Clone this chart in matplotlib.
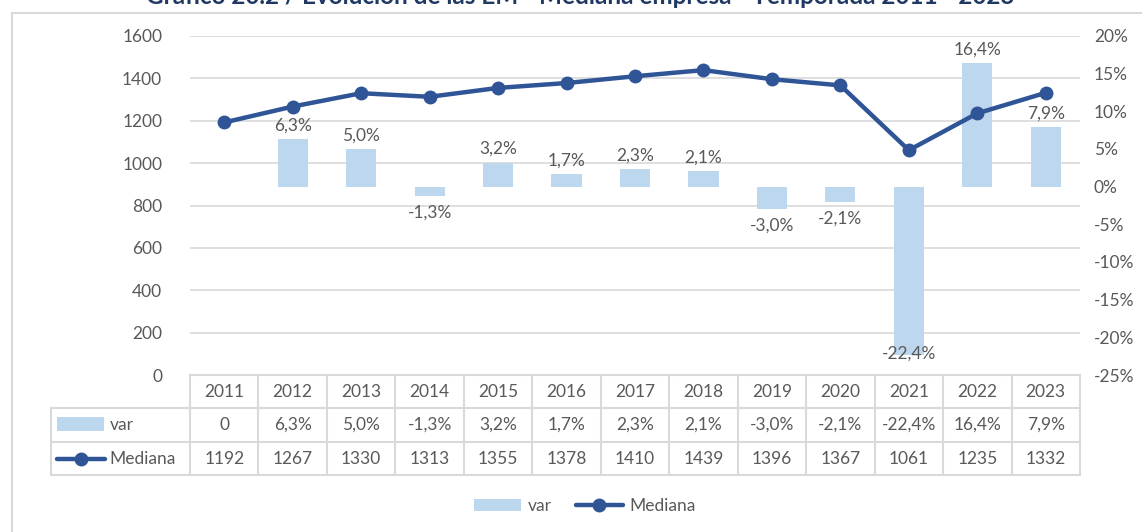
import matplotlib
matplotlib.use("Agg")
import matplotlib.pyplot as plt
from matplotlib.lines import Line2D
from matplotlib.patches import Rectangle
from matplotlib.ticker import FuncFormatter, MultipleLocator

years = ["2011", "2012", "2013", "2014", "2015", "2016", "2017", "2018",
         "2019", "2020", "2021", "2022", "2023"]
var_pct = [0, 6.3, 5.0, -1.3, 3.2, 1.7, 2.3, 2.1, -3.0, -2.1, -22.4, 16.4, 7.9]
mediana = [1192, 1267, 1330, 1313, 1355, 1378, 1410, 1439, 1396, 1367, 1061, 1235, 1332]
title = "Gráfico 20.2 / Evolución de las EM - Mediana empresa - Temporada 2011 - 2023"

BAR = "#BDD7EE"
LINE = "#2F5597"
TXT = "#595959"
GRID = "#D9D9D9"
FONT = "Lato"
FS = 12.5

plt.rcParams["font.family"] = [FONT, "DejaVu Sans"]

W, H = 1142, 532
fig = plt.figure(figsize=(W / 100, H / 100), dpi=100)
L, R, T, B = 190, 1080, 36, 375
ax = fig.add_axes([L / W, 1 - B / H, (R - L) / W, (B - T) / H])
ax2 = ax.twinx()
ax3 = ax.twinx()

x = list(range(len(years)))

def fmt_pct(v):
    return ("%.1f%%" % v).replace(".", ",")

# left axis: grid
ax.set_xlim(-0.5, len(years) - 0.5)
ax.set_ylim(0, 1600)
ax.yaxis.set_major_locator(MultipleLocator(200))
ax.grid(axis="y", color=GRID, linewidth=1.2)
ax.set_axisbelow(True)
ax.tick_params(axis="y", length=0, labelsize=FS, labelcolor=TXT, pad=20)
ax.tick_params(axis="x", length=0, labelbottom=False)
for a in (ax, ax2, ax3):
    for s in a.spines.values():
        s.set_visible(False)

# bars (right axis)
ax2.set_ylim(-25, 20)
ax2.yaxis.set_major_locator(MultipleLocator(5))
ax2.yaxis.set_major_formatter(FuncFormatter(lambda v, p: "%d%%" % round(v)))
ax2.tick_params(axis="y", length=0, labelsize=FS, labelcolor=TXT, pad=10)
bars = ax2.bar(x, var_pct, width=0.44, color=BAR, label="var")
for xi, v in zip(x, var_pct):
    if v == 0:
        continue
    if v > 0:
        ax2.annotate(fmt_pct(v), (xi, v), xytext=(0, 4), textcoords="offset points",
                     ha="center", va="bottom", fontsize=FS, color=TXT)
    elif v < -20:
        ax2.annotate(fmt_pct(v), (xi, v), xytext=(0, 1), textcoords="offset points",
                     ha="center", va="center", fontsize=FS, color=TXT)
    else:
        ax2.annotate(fmt_pct(v), (xi, v), xytext=(0, -6), textcoords="offset points",
                     ha="center", va="top", fontsize=FS, color=TXT)

# line (left scale, on top)
ax3.set_ylim(0, 1600)
ax3.set_yticks([])
line, = ax3.plot(x, mediana, color=LINE, linewidth=3.2, marker="o", markersize=9,
                 label="Mediana", solid_capstyle="round")

# data table
def ya(py):
    return (B - py) / (B - T)

tr = ax.get_xaxis_transform()
trf = fig.transFigure
rows_y = [375, 408, 442, 475]
lkw = dict(color=GRID, linewidth=1.5, clip_on=False)
for py in rows_y:
    if py == 375:
        ax.add_line(Line2D([-0.5, len(years) - 0.5], [ya(py)] * 2, transform=tr, **lkw))
    else:
        fig.add_artist(Line2D([51 / W, R / W], [1 - py / H] * 2, transform=trf, **lkw))
for i in range(len(years) + 1):
    ax.add_line(Line2D([i - 0.5] * 2, [ya(375), ya(475)], transform=tr, **lkw))
fig.add_artist(Line2D([51 / W] * 2, [1 - 408 / H, 1 - 475 / H], transform=trf, **lkw))

for xi, yr, v, m in zip(x, years, var_pct, mediana):
    ax.text(xi, ya(392), yr, transform=tr, ha="center", va="center", fontsize=FS, color=TXT)
    ax.text(xi, ya(425), "0" if v == 0 else fmt_pct(v), transform=tr, ha="center",
            va="center", fontsize=FS, color=TXT)
    ax.text(xi, ya(459), str(m), transform=tr, ha="center", va="center", fontsize=FS, color=TXT)

# row legend keys
fig.add_artist(Rectangle((57 / W, 1 - 431 / H), 47 / W, 14 / H, transform=trf,
                         facecolor=BAR, edgecolor="none"))
fig.text(110 / W, 1 - 425 / H, "var", ha="left", va="center", fontsize=FS, color=TXT)
fig.add_artist(Line2D([57 / W, 105 / W], [1 - 459 / H] * 2, transform=trf, color=LINE,
                      linewidth=3.2, solid_capstyle="round"))
fig.add_artist(Line2D([81 / W], [1 - 459 / H], transform=trf, color=LINE, marker="o",
                      markersize=9, linestyle="none"))
fig.text(109 / W, 1 - 459 / H, "Mediana", ha="left", va="center", fontsize=FS, color=TXT)

# bottom legend
leg = fig.legend(handles=[bars, line], loc="center", bbox_to_anchor=(585 / W, 1 - 506 / H),
                 ncol=2, frameon=False, fontsize=FS, handlelength=2.7, columnspacing=1.4,
                 handletextpad=0.4)
for t in leg.get_texts():
    t.set_color(TXT)

# chart border and clipped title
fig.add_artist(Line2D([12 / W, 1], [1 - 13 / H] * 2, transform=trf, color=GRID, linewidth=1.5))
fig.add_artist(Line2D([12 / W] * 2, [1 - 13 / H, 0], transform=trf, color=GRID, linewidth=1.5))
fig.text(580 / W, 1 - 4 / H, title, ha="center", va="baseline", fontsize=17.5,
         fontweight="bold", color="#1F3864")

fig.savefig("out.png", dpi=100)
